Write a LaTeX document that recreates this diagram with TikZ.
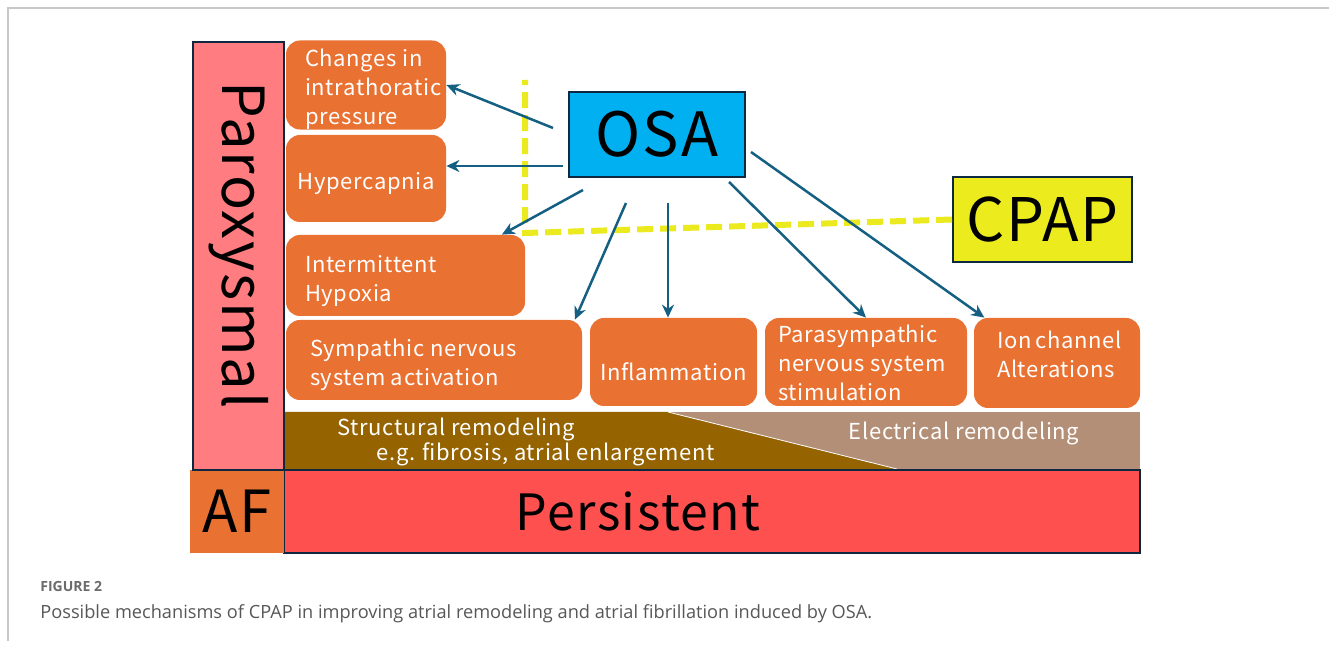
\documentclass[tikz,border=0pt]{standalone}
\usepackage{fontspec}
\setmainfont{Noto Sans CJK JP}[LetterSpace=3]
\newfontfamily\bigfont{Noto Sans CJK JP}[LetterSpace=3]
\newfontfamily\capfont{Open Sans}
\usetikzlibrary{arrows.meta}
\hyphenpenalty=10000
\hbadness=10000
\hfuzz=30pt

\definecolor{boxorange}{HTML}{E97132}
\definecolor{parpink}{HTML}{FF7C80}
\definecolor{perred}{HTML}{FF5050}
\definecolor{edgeblue}{HTML}{0E2841}
\definecolor{arrowblue}{HTML}{156082}
\definecolor{osablue}{HTML}{00B0F0}
\definecolor{cpapyellow}{HTML}{EBEB1E}
\definecolor{dashyellow}{HTML}{EAEA1E}
\definecolor{structbrown}{HTML}{956300}
\definecolor{electan}{HTML}{B48F78}
\definecolor{framegray}{HTML}{C8C8C8}

\tikzset{
    cause/.style={fill=boxorange, rounded corners=7pt, text=white, align=flush left,
        inner sep=0pt, font=\fontsize{11}{14.5}\selectfont},
    textstrut/.style 2 args={execute at begin node={\rule{0pt}{#1}},
        execute at end node={\rule[-#2]{0pt}{0pt}}},
    bigbox/.style={draw=edgeblue, line width=1pt, inner sep=0pt},
    mech/.style={draw=arrowblue, line width=1.25pt, -{Stealth[length=6.5pt,width=6pt]}},
    bandtext/.style={text=white, align=left, inner sep=0pt, font=\fontsize{11}{10.5}\selectfont},
    cpapline/.style={draw=dashyellow, line width=3pt, dash pattern=on 8pt off 3.5pt}
}

\begin{document}
\begin{tikzpicture}[x=0.5pt, y=-0.5pt]
    \useasboundingbox (0,0) rectangle (1329,646);
    \draw[framegray, line width=1pt] (8,641) -- (8,8) -- (1329,8);

    % remodeling bands
    \fill[electan] (668,412) rectangle (1140,469);
    \fill[structbrown] (285,412) -- (668,412) -- (897,469) -- (285,469) -- cycle;
    \draw[white, line width=0.4pt] (668,412) -- (897,469);
    \node[bandtext] (structlbl) at (526,442) {Structural remodeling\\\hspace*{19.5pt}e.g. fibrosis, atrial enlargement};
    \node[bandtext, font=\fontsize{11}{13}\selectfont] (eleclbl) at (964,433) {Electrical remodeling};

    % AF stages
    \node[bigbox, fill=perred, minimum width=428pt, minimum height=41.5pt,
        font=\bigfont\fontsize{25}{26}\selectfont] (persist) at (712,511.5) {Persistent\hspace*{74pt}};
    \node[fill=boxorange, inner sep=0pt, minimum width=47pt, minimum height=41.5pt,
        font=\bigfont\fontsize{29}{30}\selectfont] (af) at (237,511.5) {AF};
    \node[bigbox, fill=parpink, rotate=-90, minimum width=214pt, minimum height=45.5pt,
        font=\bigfont\fontsize{29}{30}\selectfont] (parox) at (238.5,256) {Paroxysmal\hspace*{11pt}};

    % consequences of OSA
    \node[cause, textstrut={13pt}{2.5pt}, text width=61pt, minimum width=80pt, minimum height=43pt] (changes) at (366,85) {Changes in\\intrathoratic\\pressure};
    \node[cause, textstrut={13.6pt}{2.3pt}, minimum width=80pt, minimum height=43.5pt] (hyper) at (366,178.5) {Hypercapnia};
    \node[cause, textstrut={13.8pt}{2.5pt}, text width=100.5pt, minimum width=119.5pt, minimum height=40.5pt] (hypox) at (405.5,275.5) {Intermittent\\Hypoxia};
    \node[cause, textstrut={13.8pt}{2.5pt}, text width=124pt, minimum width=148pt, minimum height=40pt] (symp) at (434,360) {Sympathic nervous\\system activation};
    \node[cause, textstrut={19.3pt}{0.5pt}, minimum width=83.5pt, minimum height=44pt] (infl) at (673.5,362) {Inflammation};
    \node[cause, textstrut={10.5pt}{1pt}, text width=88pt, minimum width=101pt, minimum height=44pt] (para) at (866,362) {Parasympathic\\nervous system\\stimulation};
    \node[cause, textstrut={9pt}{8.7pt}, text width=60pt, minimum width=83pt, minimum height=45pt] (ion) at (1057,363) {Ion~channel\\Alterations};

    \node[bigbox, fill=osablue, minimum width=88pt, minimum height=42.5pt,
        font=\bigfont\fontsize{30.5}{31}\selectfont] (osa) at (657,134.5) {OSA};
    \node[bigbox, fill=cpapyellow, minimum width=89.5pt, minimum height=42.5pt,
        font=\bigfont\fontsize{30}{31}\selectfont] (cpap) at (1042.5,219.5) {CPAP};

    % CPAP blocks the pathway
    \coordinate (dashtop) at (525,80);
    \coordinate (dashcorner) at (525,233);
    \draw[cpapline] (cpap.west) -- (dashcorner) -- (dashtop);

    \coordinate (s1) at (553,128);
    \coordinate (s2) at (563,166);
    \coordinate (s3) at (583,190);
    \coordinate (s4) at (626,203);
    \coordinate (s5) at (668,203);
    \coordinate (s6) at (729,182);
    \coordinate (s7) at (751,152);
    \draw[mech] (s1) -- (changes.east);
    \draw[mech] (s2) -- (hyper.east |- s2);
    \draw[mech] (s3) -- (hypox.23);
    \draw[mech] (s4) -- (symp.16);
    \draw[mech] (s5) -- (infl.north -| s5);
    \draw[mech] (s6) -- (para.north);
    \draw[mech] (s7) -- (ion.148);

    % caption
    \node[anchor=base west, inner sep=0pt, text=black!58, font=\capfont\bfseries\fontsize{7}{8}\selectfont] (figno) at (40,592) {FIGURE 2};
    \node[anchor=base west, inner sep=0pt, text=black!66, font=\capfont\fontsize{9.1}{10}\selectfont] (caption) at (40,618) {Possible mechanisms of CPAP in improving atrial remodeling and atrial fibrillation induced by OSA.};
\end{tikzpicture}
\end{document}
